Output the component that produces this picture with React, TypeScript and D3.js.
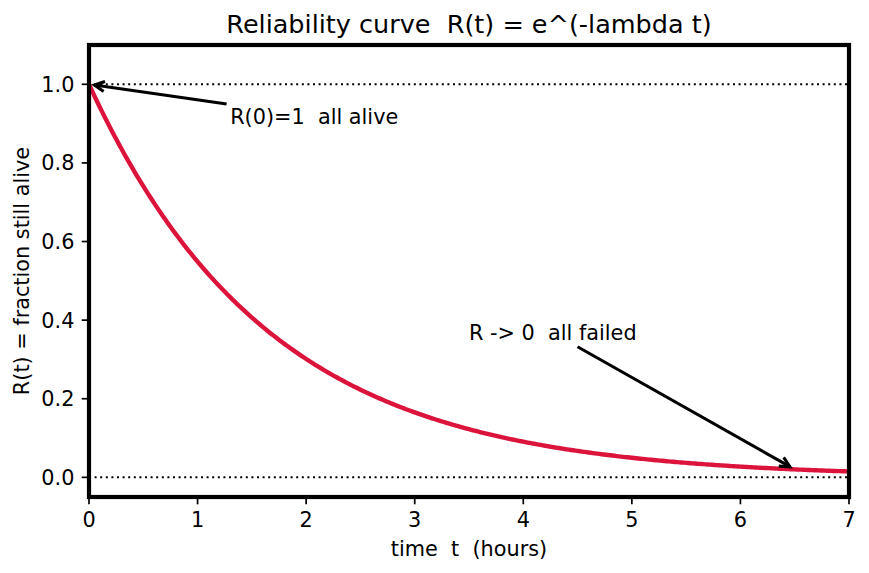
import React, { useEffect, useRef } from "react";
import * as d3 from "d3";

// Exponential reliability model R(t) = e^(-lambda t)
const LAMBDA = 0.6;
const T_MAX = 7;
const T_STEP = 0.02;

const X_TICKS = [0, 1, 2, 3, 4, 5, 6, 7];
const Y_TICKS = [0.0, 0.2, 0.4, 0.6, 0.8, 1.0];
const REF_LINES = [1.0, 0.0];

const TITLE = "Reliability curve  R(t) = e^(-lambda t)";
const X_LABEL = "time  t  (hours)";
const Y_LABEL = "R(t) = fraction still alive";

const reliability = (t: number) => Math.exp(-LAMBDA * t);

const ANNOTATION_LABELS = ["R(0)=1  all alive", "R -> 0  all failed"];
const ANNOTATION_TARGETS: [number, number][] = [
  [0, reliability(0)],
  [6.5, reliability(6.5)],
];
const ANNOTATION_TEXT_POS: [number, number][] = [
  [1.3, 0.9],
  [3.5, 0.35],
];

const W = 869;
const H = 573;
const M = { left: 89, right: 20, top: 45, bottom: 76 };
const FONT = "'DejaVu Sans', sans-serif";
const FS = 20.8;
const TITLE_FS = 25.5;
const CURVE_COLOR = "#dc143c";

export default function App() {
  const ref = useRef<SVGSVGElement | null>(null);

  useEffect(() => {
    document.body.style.margin = "0";
    const svg = d3.select(ref.current!);
    svg.selectAll("*").remove();

    const x = d3.scaleLinear().domain([0, T_MAX]).range([M.left, W - M.right]);
    const y = d3.scaleLinear().domain([-0.05, 1.1]).range([H - M.bottom, M.top]);

    svg.append("rect").attr("width", W).attr("height", H).attr("fill", "#fff");

    const addText = (sel: d3.Selection<any, any, any, any>, size: number) =>
      sel
        .append("text")
        .attr("font-family", FONT)
        .attr("font-size", size)
        .style("white-space", "pre")
        .attr("xml:space", "preserve");

    // dotted reference lines at R=1 and R=0
    svg
      .append("g")
      .selectAll("line")
      .data(REF_LINES)
      .join("line")
      .attr("x1", x(0))
      .attr("x2", x(T_MAX))
      .attr("y1", (d) => y(d))
      .attr("y2", (d) => y(d))
      .attr("stroke", "#000")
      .attr("stroke-width", 2)
      .attr("stroke-dasharray", "2 3.6");

    // curve
    const ts = d3.range(0, T_MAX + T_STEP / 2, T_STEP);
    const line = d3
      .line<number>()
      .x((t) => x(t))
      .y((t) => y(reliability(t)));
    const clipId = "plot-clip";
    svg
      .append("clipPath")
      .attr("id", clipId)
      .append("rect")
      .attr("x", M.left)
      .attr("y", M.top)
      .attr("width", W - M.left - M.right)
      .attr("height", H - M.top - M.bottom);
    svg
      .append("path")
      .datum(ts)
      .attr("d", line)
      .attr("fill", "none")
      .attr("stroke", CURVE_COLOR)
      .attr("stroke-width", 4.4)
      .attr("clip-path", `url(#${clipId})`);

    // axes ticks
    const tickLen = 7.3;
    const pad = 7.3;
    const xg = svg.append("g");
    X_TICKS.forEach((t) => {
      xg.append("line")
        .attr("x1", x(t))
        .attr("x2", x(t))
        .attr("y1", H - M.bottom)
        .attr("y2", H - M.bottom + tickLen)
        .attr("stroke", "#000")
        .attr("stroke-width", 1.7);
      addText(xg, FS)
        .attr("x", x(t))
        .attr("y", H - M.bottom + tickLen + pad)
        .attr("dy", "0.76em")
        .attr("text-anchor", "middle")
        .text(String(t));
    });
    const yg = svg.append("g");
    Y_TICKS.forEach((v) => {
      yg.append("line")
        .attr("x1", M.left - tickLen)
        .attr("x2", M.left)
        .attr("y1", y(v))
        .attr("y2", y(v))
        .attr("stroke", "#000")
        .attr("stroke-width", 1.7);
      addText(yg, FS)
        .attr("x", M.left - tickLen - pad)
        .attr("y", y(v))
        .attr("dy", "0.36em")
        .attr("text-anchor", "end")
        .text(v.toFixed(1));
    });

    // frame
    svg
      .append("rect")
      .attr("x", M.left)
      .attr("y", M.top)
      .attr("width", W - M.left - M.right)
      .attr("height", H - M.top - M.bottom)
      .attr("fill", "none")
      .attr("stroke", "#000")
      .attr("stroke-width", 4.2);

    // labels
    addText(svg, TITLE_FS)
      .attr("x", (M.left + W - M.right) / 2)
      .attr("y", 33)
      .attr("text-anchor", "middle")
      .text(TITLE);
    addText(svg, FS)
      .attr("x", (M.left + W - M.right) / 2)
      .attr("y", 556)
      .attr("text-anchor", "middle")
      .text(X_LABEL);
    addText(svg, FS)
      .attr("transform", `translate(29,${(M.top + H - M.bottom) / 2}) rotate(-90)`)
      .attr("text-anchor", "middle")
      .text(Y_LABEL);

    // annotations with arrows
    ANNOTATION_LABELS.forEach((label, i) => {
      const [tx, ty] = ANNOTATION_TEXT_POS[i];
      const [ax, ay] = ANNOTATION_TARGETS[i];
      const txt = addText(svg, FS).attr("x", x(tx)).attr("y", y(ty)).text(label);
      const bb = (txt.node() as SVGTextElement).getBBox();
      const cx = bb.x + bb.width / 2;
      const cy = bb.y + bb.height / 2;
      const px = x(ax);
      const py = y(ay);
      const dx = px - cx;
      const dy = py - cy;
      // start the arrow at the edge of the label box
      const sx = Math.abs(dx) > 0 ? bb.width / 2 / Math.abs(dx) : Infinity;
      const sy = Math.abs(dy) > 0 ? bb.height / 2 / Math.abs(dy) : Infinity;
      const s = Math.min(sx, sy);
      const len = Math.hypot(dx, dy);
      const ux = dx / len;
      const uy = dy / len;
      const shrinkA = 4;
      const shrinkB = 5.5;
      const x0 = cx + dx * s + ux * shrinkA;
      const y0 = cy + dy * s + uy * shrinkA;
      const x1 = px - ux * shrinkB;
      const y1 = py - uy * shrinkB;
      svg
        .append("line")
        .attr("x1", x0)
        .attr("y1", y0)
        .attr("x2", x1)
        .attr("y2", y1)
        .attr("stroke", "#000")
        .attr("stroke-width", 3.1);
      const hl = 10;
      const hw = 5;
      const bx = x1 - ux * hl;
      const by = y1 - uy * hl;
      svg
        .append("path")
        .attr(
          "d",
          `M${bx - uy * hw},${by + ux * hw}L${x1},${y1}L${bx + uy * hw},${by - ux * hw}`
        )
        .attr("fill", "none")
        .attr("stroke", "#000")
        .attr("stroke-width", 3.1)
        .attr("stroke-linejoin", "miter");
    });
  }, []);

  return <svg ref={ref} width={W} height={H} style={{ display: "block" }} />;
}
